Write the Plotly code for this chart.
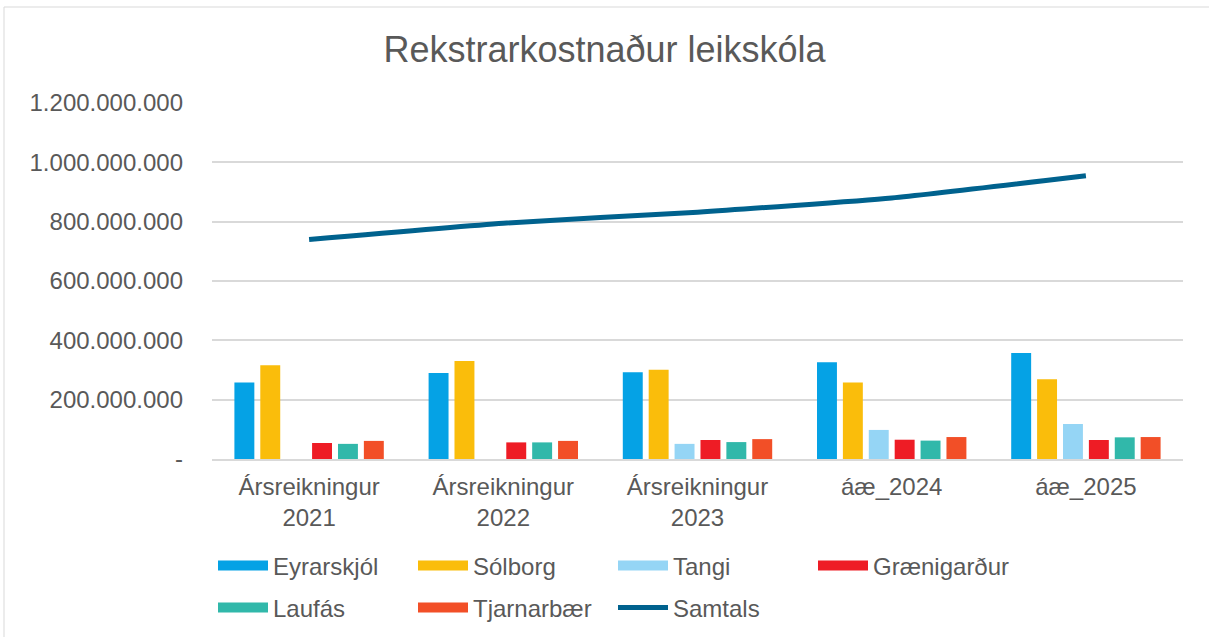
import plotly.graph_objects as go

categories = ["Ársreikningur<br>2021", "Ársreikningur<br>2022", "Ársreikningur<br>2023", "áæ_2024", "áæ_2025"]

eyrarskjol = [258e6, 290e6, 292e6, 326e6, 357e6]
solborg = [316e6, 330e6, 301e6, 258e6, 269e6]
tangi = [None, None, 51e6, 98e6, 118e6]
graenigardur = [54e6, 56e6, 64e6, 65e6, 64e6]
laufas = [51e6, 56e6, 57e6, 62e6, 73e6]
tjarnarbaer = [61e6, 61e6, 67e6, 74e6, 74e6]
samtals = [740e6, 795e6, 832e6, 880e6, 955e6]

y_tickvals = [0, 200e6, 400e6, 600e6, 800e6, 1000e6, 1200e6]
y_ticktext = ["-", "200.000.000", "400.000.000", "600.000.000", "800.000.000", "1.000.000.000", "1.200.000.000"]

bar_series = [
    ("Eyrarskjól", eyrarskjol, "#05A2E5", "legend"),
    ("Sólborg", solborg, "#FABD0B", "legend"),
    ("Tangi", tangi, "#95D5F5", "legend"),
    ("Grænigarður", graenigardur, "#EE1C25", "legend"),
    ("Laufás", laufas, "#31B8AA", "legend2"),
    ("Tjarnarbær", tjarnarbaer, "#F24F27", "legend2"),
]

FONT = "Liberation Sans, Arial, sans-serif"
GREY = "#595959"

fig = go.Figure()
for name, vals, color, leg in bar_series:
    fig.add_trace(go.Bar(x=categories, y=vals, name=name, marker=dict(color=color, line=dict(width=0)),
                         showlegend=False, legendgroup=name))
for name, vals, color, leg in bar_series:
    fig.add_trace(go.Scatter(x=[None], y=[None], mode="lines", name=name, legendgroup=name,
                             line=dict(color=color, width=13), legend=leg, hoverinfo="skip"))

fig.add_trace(go.Scatter(x=categories, y=samtals, mode="lines", name="Samtals",
                         line=dict(color="#00628E", width=5, shape="spline", smoothing=0.5),
                         legend="legend2"))

W, H = 1209, 637
L, R, T, B = 212, 1183, 103, 459

leg_common = dict(orientation="h", xref="container", yref="container", xanchor="left", yanchor="middle",
                  entrywidth=135, entrywidthmode="pixels", itemwidth=50,
                  font=dict(family=FONT, size=24, color=GREY), bgcolor="rgba(0,0,0,0)",
                  traceorder="normal", itemclick="toggle")

fig.update_layout(
    width=W, height=H,
    paper_bgcolor="white", plot_bgcolor="white",
    margin=dict(l=L, r=W - R, t=T, b=H - B, autoexpand=False),
    font=dict(family=FONT, color=GREY, size=24),
    title=dict(text="Rekstrarkostnaður leikskóla", x=0.5, xref="container", xanchor="center",
               y=1 - 49 / H, yref="container", yanchor="middle",
               font=dict(family=FONT, size=36, color=GREY)),
    barmode="group", bargap=0.2, bargroupgap=0.23,
    xaxis=dict(type="category", showgrid=False, ticks="", showline=True, linecolor="#d9d9d9", linewidth=1.5,
               tickfont=dict(family=FONT, size=24, color=GREY), ticklabelstandoff=5),
    yaxis=dict(range=[0, 1.2e9], tickvals=y_tickvals, ticktext=y_ticktext, showgrid=True,
               gridcolor="#d9d9d9", gridwidth=1.5, zeroline=False, showline=False, ticks="",
               tickfont=dict(family=FONT, size=24, color=GREY), ticklabelstandoff=28),
    legend=dict(**leg_common, x=213 / W, y=1 - 566 / H),
    legend2=dict(**leg_common, x=213 / W, y=1 - 608 / H),
    shapes=[dict(type="rect", xref="paper", yref="paper",
                 x0=(4 - L) / (R - L), x1=(1220 - L) / (R - L),
                 y0=(B - 650) / (B - T), y1=(B - 7) / (B - T),
                 line=dict(color="#d9d9d9", width=1), fillcolor="rgba(0,0,0,0)", layer="below")],
)

fig.write_html("out.html", config={"displayModeBar": False},
               post_script="document.body.style.margin='0px';document.body.style.overflow='hidden';")
